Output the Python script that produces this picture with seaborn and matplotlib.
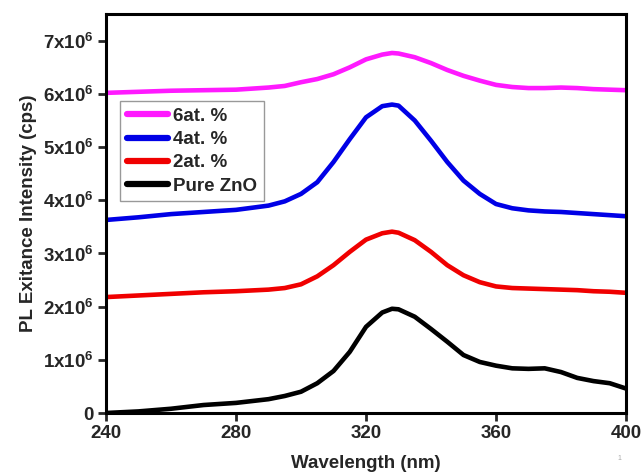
import numpy as np
import pandas as pd
import matplotlib
matplotlib.use("Agg")
import matplotlib.pyplot as plt
import seaborn as sns

wavelength = [240, 250, 260, 270, 280, 290, 295, 300, 305, 310, 315, 320, 325, 328, 330,
              335, 340, 345, 350, 355, 360, 365, 370, 375, 380, 385, 390, 395, 400]
pure_zno = [0.00, 0.03, 0.08, 0.15, 0.19, 0.26, 0.32, 0.40, 0.56, 0.79, 1.15, 1.62, 1.89, 1.96, 1.95,
            1.81, 1.58, 1.34, 1.09, 0.96, 0.89, 0.84, 0.83, 0.84, 0.77, 0.66, 0.60, 0.56, 0.46]
at2 = [2.18, 2.21, 2.24, 2.27, 2.29, 2.32, 2.35, 2.42, 2.57, 2.78, 3.03, 3.26, 3.38, 3.41, 3.39,
       3.25, 3.03, 2.78, 2.59, 2.46, 2.38, 2.35, 2.34, 2.33, 2.32, 2.31, 2.29, 2.28, 2.26]
at4 = [3.63, 3.68, 3.74, 3.78, 3.82, 3.90, 3.98, 4.12, 4.34, 4.72, 5.15, 5.56, 5.77, 5.80, 5.78,
       5.50, 5.12, 4.72, 4.37, 4.12, 3.93, 3.85, 3.81, 3.79, 3.78, 3.76, 3.74, 3.72, 3.70]
at6 = [6.02, 6.04, 6.06, 6.07, 6.08, 6.12, 6.15, 6.22, 6.28, 6.37, 6.50, 6.65, 6.74, 6.77, 6.76,
       6.69, 6.58, 6.45, 6.34, 6.25, 6.17, 6.13, 6.11, 6.11, 6.12, 6.11, 6.09, 6.08, 6.07]

series_names = ["6at. %", "4at. %", "2at. %", "Pure ZnO"]
series_values = [at6, at4, at2, pure_zno]
colors = ["#ff1aff", "#0000e6", "#f00000", "#000000"]
x_ticks = [240, 280, 320, 360, 400]
y_ticks = [0, 1e6, 2e6, 3e6, 4e6, 5e6, 6e6, 7e6]
y_tick_labels = ["0", "1x10$^6$", "2x10$^6$", "3x10$^6$", "4x10$^6$", "5x10$^6$", "6x10$^6$", "7x10$^6$"]

rows = []
for name, vals in zip(series_names, series_values):
    for w, v in zip(wavelength, vals):
        rows.append({"Wavelength": w, "Intensity": v * 1e6, "Sample": name})
df = pd.DataFrame(rows)

sns.set_style("white")
plt.rcParams["font.family"] = ["Liberation Sans", "DejaVu Sans"]
plt.rcParams["font.weight"] = "bold"
plt.rcParams["mathtext.fontset"] = "custom"
plt.rcParams["mathtext.rm"] = "Liberation Sans:bold"
plt.rcParams["mathtext.default"] = "rm"

fig = plt.figure(figsize=(6.41, 4.72), dpi=100)
ax = fig.add_axes([0.1654, 0.125, 0.8112, 0.845])

sns.lineplot(data=df, x="Wavelength", y="Intensity", hue="Sample",
             hue_order=series_names, palette=colors, linewidth=3.3, ax=ax)
for ln in ax.get_lines():
    ln.set_solid_joinstyle("round")
    ln.set_solid_capstyle("round")

ax.set_xlim(240, 400)
ax.set_ylim(0, 7.5e6)
ax.set_xticks(x_ticks)
ax.set_xticklabels([str(t) for t in x_ticks])
ax.set_yticks(y_ticks)
ax.set_yticklabels(y_tick_labels)
ax.tick_params(direction="out", length=6, width=2, labelsize=13.5, pad=3,
               bottom=True, left=True)
for lab in ax.get_xticklabels() + ax.get_yticklabels():
    lab.set_fontweight("bold")
for s in ax.spines.values():
    s.set_linewidth(2.2)
    s.set_color("black")

ax.set_xlabel("Wavelength (nm)", fontsize=13.5, fontweight="bold", labelpad=9)
ax.set_ylabel("PL Exitance Intensity (cps)", fontsize=13.5, fontweight="bold", labelpad=4)

leg = ax.legend(loc="upper left", bbox_to_anchor=(0.027, 0.782), fontsize=13.5,
                frameon=True, fancybox=False, handlelength=2.2, handletextpad=0.3,
                borderpad=0.35, labelspacing=0.33, borderaxespad=0)
leg.get_frame().set_edgecolor("#808080")
leg.get_frame().set_linewidth(1.0)
for t in leg.get_texts():
    t.set_fontweight("bold")
for l in leg.get_lines():
    l.set_linewidth(4.5)

fig.text(0.963, 0.025, "1", fontsize=5, color="#aaaaaa", fontweight="normal")

fig.savefig("out.png", dpi=100)
